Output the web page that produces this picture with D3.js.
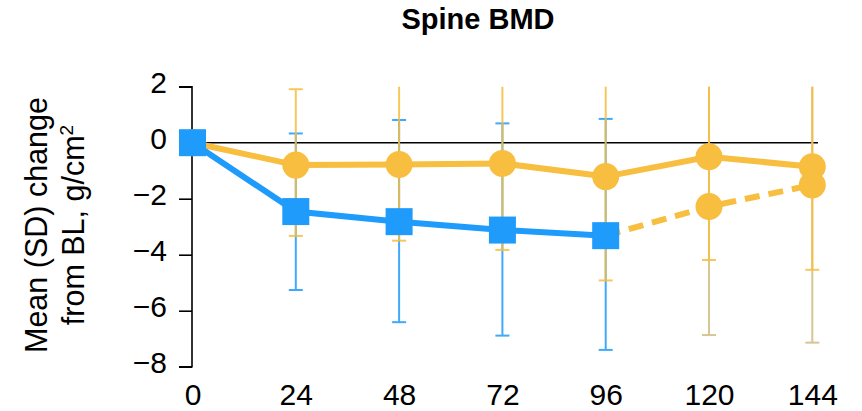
<!DOCTYPE html>
<meta charset="utf-8">
<body style="margin:0;background:#fff">
<div class="chart"></div>
<script src="https://d3js.org/d3.v7.min.js"></script>
<script>

    // weeks on the x axis
    const weeks = [0, 24, 48, 72, 96, 120, 144];
    const yTicks = [2, 0, -2, -4, -6, -8];

    // blue group (squares), weeks 0-96
    const blueWeeks = [0, 24, 48, 72, 96];
    const blueMean = [0, -2.46, -2.82, -3.12, -3.32];
    const blueLow = [null, -5.26, -6.41, -6.89, -7.40];
    const blueHigh = [null, 0.33, 0.81, 0.69, 0.85];

    // yellow group (circles, solid), weeks 0-144
    const yellowWeeks = [0, 24, 48, 72, 96, 120, 144];
    const yellowMean = [0, -0.80, -0.78, -0.74, -1.21, -0.50, -0.86];
    const yellowLow = [null, -3.33, -3.50, -3.83, -4.92, -4.19, -4.54];
    const yellowHigh = [null, 1.91, 2.6, 2.8, 2.8, 2.9, 2.8];

    // switch group (circles, dashed), weeks 96-144
    const switchWeeks = [96, 120, 144];
    const switchMean = [-3.32, -2.28, -1.51];
    const switchLow = [null, -6.87, -7.14];
    const switchHigh = [null, 2.3, 3.0];

    const width = 862, height = 411;
    const blue = "#1f9bfb", yellow = "#f7be3f";
    const font = "'Liberation Sans', Arial, sans-serif";

    const svg = d3.select(".chart").append("svg")
        .attr("width", width)
        .attr("height", height)
        .style("font-family", font);

    const x = d3.scaleLinear().domain([0, 144]).range([192.5, 812.3]);
    const y = d3.scaleLinear().domain([-8, 2]).range([366.7, 86.7]);

    // title
    svg.append("text")
        .attr("x", 478).attr("y", 29)
        .attr("text-anchor", "middle")
        .style("font-size", "29px")
        .style("font-weight", "bold")
        .text("Spine BMD");

    // y axis label
    const yl = svg.append("text")
        .attr("transform", "translate(0,225) rotate(-90)")
        .attr("text-anchor", "middle")
        .style("font-size", "30.5px");
    yl.append("tspan").attr("x", 0).attr("y", 47).text("Mean (SD) change");
    const l2 = yl.append("tspan").attr("x", 0).attr("y", 84).text("from BL, g/cm");
    l2.append("tspan").attr("dy", -11).style("font-size", "19px").text("2");

    // y axis
    const yAxis = d3.axisLeft(y).tickValues(yTicks).tickSize(13).tickPadding(12)
        .tickFormat(d => d < 0 ? "\u2212" + Math.abs(d) : d);
    const gy = svg.append("g").attr("transform", "translate(192,0)").call(yAxis);
    gy.select(".domain").attr("d", `M-13,${y(2)}H0V${y(-8)}H-13`).attr("stroke-width", 1.6);
    gy.selectAll(".tick line").attr("stroke-width", 1.6);
    gy.selectAll(".tick text").style("font-size", "30px").style("font-family", font)
        .attr("dy", "0.18em").attr("fill", "#000");

    // x axis labels (no axis line)
    const xAxis = d3.axisBottom(x).tickValues(weeks).tickSize(0).tickPadding(0);
    const gx = svg.append("g").attr("transform", "translate(0,378)").call(xAxis);
    gx.select(".domain").remove();
    gx.selectAll(".tick text").style("font-size", "30px").style("font-family", font)
        .attr("dy", "0.9em").attr("fill", "#000");

    // zero reference line
    svg.append("line")
        .attr("x1", x(0)).attr("x2", 818)
        .attr("y1", y(0)).attr("y2", y(0))
        .attr("stroke", "#000").attr("stroke-width", 1.6);

    function rows(ws, m, lo, hi) {
        return ws.map((w, i) => ({w: w, m: m[i], lo: lo[i], hi: hi[i]}));
    }
    const blueData = rows(blueWeeks, blueMean, blueLow, blueHigh);
    const yellowData = rows(yellowWeeks, yellowMean, yellowLow, yellowHigh);
    const switchData = rows(switchWeeks, switchMean, switchLow, switchHigh);

    // error bars, clipped at the top of the axis
    function errorBars(data, color, op) {
        const g = svg.append("g").attr("stroke", color).attr("stroke-width", 2).attr("opacity", op);
        const d = data.filter(r => r.lo != null);
        g.selectAll(".v").data(d).join("line")
            .attr("x1", r => x(r.w)).attr("x2", r => x(r.w))
            .attr("y1", r => y(Math.min(r.hi, 2))).attr("y2", r => y(r.lo));
        g.selectAll(".lo").data(d).join("line")
            .attr("x1", r => x(r.w) - 7).attr("x2", r => x(r.w) + 7)
            .attr("y1", r => y(r.lo)).attr("y2", r => y(r.lo));
        g.selectAll(".hi").data(d.filter(r => r.hi <= 2)).join("line")
            .attr("x1", r => x(r.w) - 7).attr("x2", r => x(r.w) + 7)
            .attr("y1", r => y(r.hi)).attr("y2", r => y(r.hi));
    }
    errorBars(blueData, blue, 0.85);
    errorBars(switchData, "#d2c088", 0.9);
    errorBars(yellowData, yellow, 0.85);

    const line = d3.line().x(r => x(r.w)).y(r => y(r.m));

    svg.append("path").datum(switchData).attr("d", line)
        .attr("fill", "none").attr("stroke", yellow).attr("stroke-width", 6)
        .attr("stroke-dasharray", "15,9");
    svg.append("path").datum(yellowData).attr("d", line)
        .attr("fill", "none").attr("stroke", yellow).attr("stroke-width", 6);
    svg.append("path").datum(blueData).attr("d", line)
        .attr("fill", "none").attr("stroke", blue).attr("stroke-width", 6);

    svg.append("g").selectAll("circle")
        .data(yellowData.concat(switchData.slice(1)))
        .join("circle")
        .attr("cx", r => x(r.w)).attr("cy", r => y(r.m))
        .attr("r", 13.5).attr("fill", yellow);

    svg.append("g").selectAll("rect").data(blueData).join("rect")
        .attr("x", r => x(r.w) - 13.5).attr("y", r => y(r.m) - 13.5)
        .attr("width", 27).attr("height", 27).attr("fill", blue);

</script>
